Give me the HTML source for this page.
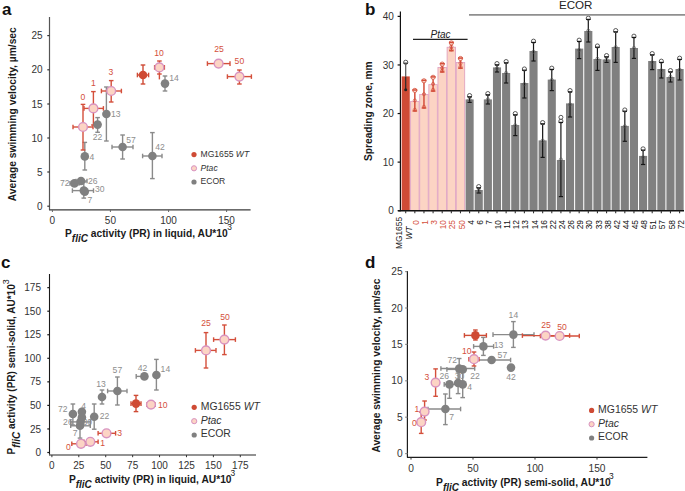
<!DOCTYPE html>
<html><head><meta charset="utf-8"><style>
html,body{margin:0;padding:0;background:#fff;}
svg{display:block;}
text{font-family:"Liberation Sans", sans-serif;}
</style></head><body>
<svg width="685" height="491" viewBox="0 0 685 491">
<rect width="685" height="491" fill="#fff"/>
<text x="2.00" y="15.00" font-size="17" text-anchor="start" fill="#111" font-weight="bold" font-style="normal">a</text>
<line x1="49.50" y1="17.00" x2="49.50" y2="209.80" stroke="#555" stroke-width="1.2"/>
<line x1="47.30" y1="35.60" x2="49.50" y2="35.60" stroke="#333" stroke-width="1.2"/>
<text x="42.50" y="39.20" font-size="10" text-anchor="end" fill="#333" font-weight="normal" font-style="normal">25</text>
<line x1="47.30" y1="69.80" x2="49.50" y2="69.80" stroke="#333" stroke-width="1.2"/>
<text x="42.50" y="73.40" font-size="10" text-anchor="end" fill="#333" font-weight="normal" font-style="normal">20</text>
<line x1="47.30" y1="104.00" x2="49.50" y2="104.00" stroke="#333" stroke-width="1.2"/>
<text x="42.50" y="107.60" font-size="10" text-anchor="end" fill="#333" font-weight="normal" font-style="normal">15</text>
<line x1="47.30" y1="138.00" x2="49.50" y2="138.00" stroke="#333" stroke-width="1.2"/>
<text x="42.50" y="141.60" font-size="10" text-anchor="end" fill="#333" font-weight="normal" font-style="normal">10</text>
<line x1="47.30" y1="172.00" x2="49.50" y2="172.00" stroke="#333" stroke-width="1.2"/>
<text x="42.50" y="175.60" font-size="10" text-anchor="end" fill="#333" font-weight="normal" font-style="normal">5</text>
<line x1="47.30" y1="206.20" x2="49.50" y2="206.20" stroke="#333" stroke-width="1.2"/>
<text x="42.50" y="209.80" font-size="10" text-anchor="end" fill="#333" font-weight="normal" font-style="normal">0</text>
<line x1="49.00" y1="209.80" x2="250.60" y2="209.80" stroke="#3a3a3a" stroke-width="1.2"/>
<line x1="52.40" y1="209.80" x2="52.40" y2="212.00" stroke="#666" stroke-width="1.0"/>
<text x="52.40" y="223.60" font-size="10" text-anchor="middle" fill="#333" font-weight="normal" font-style="normal">0</text>
<line x1="110.40" y1="209.80" x2="110.40" y2="212.00" stroke="#666" stroke-width="1.0"/>
<text x="110.40" y="223.60" font-size="10" text-anchor="middle" fill="#333" font-weight="normal" font-style="normal">50</text>
<line x1="168.60" y1="209.80" x2="168.60" y2="212.00" stroke="#666" stroke-width="1.0"/>
<text x="168.60" y="223.60" font-size="10" text-anchor="middle" fill="#333" font-weight="normal" font-style="normal">100</text>
<line x1="226.60" y1="209.80" x2="226.60" y2="212.00" stroke="#666" stroke-width="1.0"/>
<text x="226.60" y="223.60" font-size="10" text-anchor="middle" fill="#333" font-weight="normal" font-style="normal">150</text>
<text x="65.00" y="236.60" font-size="10.25" text-anchor="start" fill="#1a1a1a" font-weight="bold" font-style="normal">P<tspan dy="5.125" font-style="italic" font-size="10">fliC</tspan><tspan dy="-5.125"> activity (PR) in liquid, AU*10</tspan><tspan dx="-0.5" dy="-6.5600000000000005" font-weight="normal" font-size="8.405">3</tspan></text>
<text x="16.10" y="201.20" font-size="10.25" text-anchor="start" fill="#1a1a1a" font-weight="bold" font-style="normal" transform="rotate(-90 16.10 201.20)">Average swimming velocity, µm/sec</text>
<line x1="159.40" y1="74.00" x2="159.40" y2="79.40" stroke="#d44f3b" stroke-width="1.4"/>
<line x1="83.80" y1="182.00" x2="83.80" y2="198.10" stroke="#8a8a8a" stroke-width="1.4"/>
<line x1="81.50" y1="182.00" x2="86.10" y2="182.00" stroke="#8a8a8a" stroke-width="1.4"/>
<line x1="81.50" y1="198.10" x2="86.10" y2="198.10" stroke="#8a8a8a" stroke-width="1.4"/>
<line x1="72.40" y1="190.60" x2="93.50" y2="190.60" stroke="#8a8a8a" stroke-width="1.4"/>
<line x1="72.40" y1="188.30" x2="72.40" y2="192.90" stroke="#8a8a8a" stroke-width="1.4"/>
<line x1="93.50" y1="188.30" x2="93.50" y2="192.90" stroke="#8a8a8a" stroke-width="1.4"/>
<line x1="70.00" y1="183.40" x2="79.00" y2="183.40" stroke="#8a8a8a" stroke-width="1.4"/>
<line x1="70.00" y1="181.10" x2="70.00" y2="185.70" stroke="#8a8a8a" stroke-width="1.4"/>
<line x1="79.00" y1="181.10" x2="79.00" y2="185.70" stroke="#8a8a8a" stroke-width="1.4"/>
<line x1="76.00" y1="181.00" x2="87.00" y2="181.00" stroke="#8a8a8a" stroke-width="1.4"/>
<line x1="76.00" y1="178.70" x2="76.00" y2="183.30" stroke="#8a8a8a" stroke-width="1.4"/>
<line x1="87.00" y1="178.70" x2="87.00" y2="183.30" stroke="#8a8a8a" stroke-width="1.4"/>
<line x1="84.80" y1="142.40" x2="84.80" y2="170.00" stroke="#8a8a8a" stroke-width="1.4"/>
<line x1="82.50" y1="142.40" x2="87.10" y2="142.40" stroke="#8a8a8a" stroke-width="1.4"/>
<line x1="82.50" y1="170.00" x2="87.10" y2="170.00" stroke="#8a8a8a" stroke-width="1.4"/>
<line x1="97.60" y1="117.60" x2="97.60" y2="132.30" stroke="#8a8a8a" stroke-width="1.4"/>
<line x1="95.30" y1="117.60" x2="99.90" y2="117.60" stroke="#8a8a8a" stroke-width="1.4"/>
<line x1="95.30" y1="132.30" x2="99.90" y2="132.30" stroke="#8a8a8a" stroke-width="1.4"/>
<line x1="106.40" y1="87.00" x2="106.40" y2="141.00" stroke="#8a8a8a" stroke-width="1.4"/>
<line x1="104.10" y1="87.00" x2="108.70" y2="87.00" stroke="#8a8a8a" stroke-width="1.4"/>
<line x1="104.10" y1="141.00" x2="108.70" y2="141.00" stroke="#8a8a8a" stroke-width="1.4"/>
<line x1="122.60" y1="135.00" x2="122.60" y2="159.00" stroke="#8a8a8a" stroke-width="1.4"/>
<line x1="120.30" y1="135.00" x2="124.90" y2="135.00" stroke="#8a8a8a" stroke-width="1.4"/>
<line x1="120.30" y1="159.00" x2="124.90" y2="159.00" stroke="#8a8a8a" stroke-width="1.4"/>
<line x1="112.00" y1="147.00" x2="133.00" y2="147.00" stroke="#8a8a8a" stroke-width="1.4"/>
<line x1="112.00" y1="144.70" x2="112.00" y2="149.30" stroke="#8a8a8a" stroke-width="1.4"/>
<line x1="133.00" y1="144.70" x2="133.00" y2="149.30" stroke="#8a8a8a" stroke-width="1.4"/>
<line x1="152.40" y1="132.60" x2="152.40" y2="178.60" stroke="#8a8a8a" stroke-width="1.4"/>
<line x1="150.10" y1="132.60" x2="154.70" y2="132.60" stroke="#8a8a8a" stroke-width="1.4"/>
<line x1="150.10" y1="178.60" x2="154.70" y2="178.60" stroke="#8a8a8a" stroke-width="1.4"/>
<line x1="142.60" y1="156.00" x2="162.00" y2="156.00" stroke="#8a8a8a" stroke-width="1.4"/>
<line x1="142.60" y1="153.70" x2="142.60" y2="158.30" stroke="#8a8a8a" stroke-width="1.4"/>
<line x1="162.00" y1="153.70" x2="162.00" y2="158.30" stroke="#8a8a8a" stroke-width="1.4"/>
<line x1="165.00" y1="76.00" x2="165.00" y2="91.00" stroke="#8a8a8a" stroke-width="1.4"/>
<line x1="162.70" y1="76.00" x2="167.30" y2="76.00" stroke="#8a8a8a" stroke-width="1.4"/>
<line x1="162.70" y1="91.00" x2="167.30" y2="91.00" stroke="#8a8a8a" stroke-width="1.4"/>
<line x1="83.00" y1="104.40" x2="83.00" y2="150.00" stroke="#d44f3b" stroke-width="1.4"/>
<line x1="80.70" y1="104.40" x2="85.30" y2="104.40" stroke="#d44f3b" stroke-width="1.4"/>
<line x1="80.70" y1="150.00" x2="85.30" y2="150.00" stroke="#d44f3b" stroke-width="1.4"/>
<line x1="73.00" y1="127.00" x2="93.00" y2="127.00" stroke="#d44f3b" stroke-width="1.4"/>
<line x1="73.00" y1="124.70" x2="73.00" y2="129.30" stroke="#d44f3b" stroke-width="1.4"/>
<line x1="93.00" y1="124.70" x2="93.00" y2="129.30" stroke="#d44f3b" stroke-width="1.4"/>
<line x1="93.40" y1="91.60" x2="93.40" y2="125.00" stroke="#d44f3b" stroke-width="1.4"/>
<line x1="91.10" y1="91.60" x2="95.70" y2="91.60" stroke="#d44f3b" stroke-width="1.4"/>
<line x1="91.10" y1="125.00" x2="95.70" y2="125.00" stroke="#d44f3b" stroke-width="1.4"/>
<line x1="84.00" y1="108.40" x2="103.40" y2="108.40" stroke="#d44f3b" stroke-width="1.4"/>
<line x1="84.00" y1="106.10" x2="84.00" y2="110.70" stroke="#d44f3b" stroke-width="1.4"/>
<line x1="103.40" y1="106.10" x2="103.40" y2="110.70" stroke="#d44f3b" stroke-width="1.4"/>
<line x1="111.20" y1="80.60" x2="111.20" y2="102.00" stroke="#d44f3b" stroke-width="1.4"/>
<line x1="108.90" y1="80.60" x2="113.50" y2="80.60" stroke="#d44f3b" stroke-width="1.4"/>
<line x1="108.90" y1="102.00" x2="113.50" y2="102.00" stroke="#d44f3b" stroke-width="1.4"/>
<line x1="101.40" y1="91.00" x2="121.40" y2="91.00" stroke="#d44f3b" stroke-width="1.4"/>
<line x1="101.40" y1="88.70" x2="101.40" y2="93.30" stroke="#d44f3b" stroke-width="1.4"/>
<line x1="121.40" y1="88.70" x2="121.40" y2="93.30" stroke="#d44f3b" stroke-width="1.4"/>
<line x1="159.40" y1="61.00" x2="159.40" y2="74.00" stroke="#d44f3b" stroke-width="1.4"/>
<line x1="157.10" y1="61.00" x2="161.70" y2="61.00" stroke="#d44f3b" stroke-width="1.4"/>
<line x1="157.10" y1="74.00" x2="161.70" y2="74.00" stroke="#d44f3b" stroke-width="1.4"/>
<line x1="154.60" y1="67.40" x2="164.40" y2="67.40" stroke="#d44f3b" stroke-width="1.4"/>
<line x1="154.60" y1="65.10" x2="154.60" y2="69.70" stroke="#d44f3b" stroke-width="1.4"/>
<line x1="164.40" y1="65.10" x2="164.40" y2="69.70" stroke="#d44f3b" stroke-width="1.4"/>
<line x1="207.40" y1="63.60" x2="230.00" y2="63.60" stroke="#d44f3b" stroke-width="1.4"/>
<line x1="207.40" y1="61.30" x2="207.40" y2="65.90" stroke="#d44f3b" stroke-width="1.4"/>
<line x1="230.00" y1="61.30" x2="230.00" y2="65.90" stroke="#d44f3b" stroke-width="1.4"/>
<line x1="239.40" y1="70.00" x2="239.40" y2="84.00" stroke="#d44f3b" stroke-width="1.4"/>
<line x1="237.10" y1="70.00" x2="241.70" y2="70.00" stroke="#d44f3b" stroke-width="1.4"/>
<line x1="237.10" y1="84.00" x2="241.70" y2="84.00" stroke="#d44f3b" stroke-width="1.4"/>
<line x1="227.40" y1="76.60" x2="251.40" y2="76.60" stroke="#d44f3b" stroke-width="1.4"/>
<line x1="227.40" y1="74.30" x2="227.40" y2="78.90" stroke="#d44f3b" stroke-width="1.4"/>
<line x1="251.40" y1="74.30" x2="251.40" y2="78.90" stroke="#d44f3b" stroke-width="1.4"/>
<line x1="143.00" y1="65.00" x2="143.00" y2="84.00" stroke="#cf4b35" stroke-width="1.4"/>
<line x1="140.70" y1="65.00" x2="145.30" y2="65.00" stroke="#cf4b35" stroke-width="1.4"/>
<line x1="140.70" y1="84.00" x2="145.30" y2="84.00" stroke="#cf4b35" stroke-width="1.4"/>
<line x1="137.40" y1="75.00" x2="148.60" y2="75.00" stroke="#cf4b35" stroke-width="1.4"/>
<line x1="137.40" y1="72.70" x2="137.40" y2="77.30" stroke="#cf4b35" stroke-width="1.4"/>
<line x1="148.60" y1="72.70" x2="148.60" y2="77.30" stroke="#cf4b35" stroke-width="1.4"/>
<circle cx="83.80" cy="190.60" r="4.3" fill="#808080" stroke="none" stroke-width="0"/>
<circle cx="84.80" cy="191.60" r="4.3" fill="#808080" stroke="none" stroke-width="0"/>
<circle cx="74.40" cy="183.40" r="4.3" fill="#808080" stroke="none" stroke-width="0"/>
<circle cx="81.00" cy="181.00" r="4.3" fill="#808080" stroke="none" stroke-width="0"/>
<circle cx="84.80" cy="156.40" r="4.3" fill="#808080" stroke="none" stroke-width="0"/>
<circle cx="97.60" cy="124.60" r="4.3" fill="#808080" stroke="none" stroke-width="0"/>
<circle cx="106.40" cy="114.00" r="4.3" fill="#808080" stroke="none" stroke-width="0"/>
<circle cx="122.60" cy="147.00" r="4.3" fill="#808080" stroke="none" stroke-width="0"/>
<circle cx="152.40" cy="156.00" r="4.3" fill="#808080" stroke="none" stroke-width="0"/>
<circle cx="165.00" cy="83.60" r="4.3" fill="#808080" stroke="none" stroke-width="0"/>
<circle cx="83.00" cy="127.00" r="4.4" fill="#fcd4c4" stroke="#d893c0" stroke-width="1.4"/>
<circle cx="93.40" cy="108.40" r="4.4" fill="#fcd4c4" stroke="#d893c0" stroke-width="1.4"/>
<circle cx="111.20" cy="91.00" r="4.4" fill="#fcd4c4" stroke="#d893c0" stroke-width="1.4"/>
<circle cx="159.40" cy="67.40" r="4.4" fill="#fcd4c4" stroke="#d893c0" stroke-width="1.4"/>
<circle cx="218.60" cy="63.60" r="4.4" fill="#fcd4c4" stroke="#d893c0" stroke-width="1.4"/>
<circle cx="239.40" cy="76.60" r="4.4" fill="#fcd4c4" stroke="#d893c0" stroke-width="1.4"/>
<circle cx="143.00" cy="75.00" r="4.3" fill="#cf4b35" stroke="none" stroke-width="0"/>
<text x="83.00" y="100.00" font-size="8.6" text-anchor="middle" fill="#d44f3b" font-weight="normal" font-style="normal">0</text>
<text x="93.40" y="86.00" font-size="8.6" text-anchor="middle" fill="#d44f3b" font-weight="normal" font-style="normal">1</text>
<text x="111.00" y="75.00" font-size="8.6" text-anchor="middle" fill="#d44f3b" font-weight="normal" font-style="normal">3</text>
<text x="159.00" y="56.00" font-size="8.6" text-anchor="middle" fill="#d44f3b" font-weight="normal" font-style="normal">10</text>
<text x="219.00" y="51.60" font-size="8.6" text-anchor="middle" fill="#d44f3b" font-weight="normal" font-style="normal">25</text>
<text x="239.40" y="64.00" font-size="8.6" text-anchor="middle" fill="#d44f3b" font-weight="normal" font-style="normal">50</text>
<text x="169.20" y="81.00" font-size="8.6" text-anchor="start" fill="#8e8e8e" font-weight="normal" font-style="normal">14</text>
<text x="111.00" y="117.00" font-size="8.6" text-anchor="start" fill="#8e8e8e" font-weight="normal" font-style="normal">13</text>
<text x="97.60" y="139.50" font-size="8.6" text-anchor="middle" fill="#8e8e8e" font-weight="normal" font-style="normal">22</text>
<text x="89.40" y="159.50" font-size="8.6" text-anchor="start" fill="#8e8e8e" font-weight="normal" font-style="normal">4</text>
<text x="131.00" y="142.70" font-size="8.6" text-anchor="middle" fill="#8e8e8e" font-weight="normal" font-style="normal">57</text>
<text x="160.00" y="149.60" font-size="8.6" text-anchor="middle" fill="#8e8e8e" font-weight="normal" font-style="normal">42</text>
<text x="69.50" y="186.40" font-size="8.6" text-anchor="end" fill="#8e8e8e" font-weight="normal" font-style="normal">72</text>
<text x="88.00" y="184.00" font-size="8.6" text-anchor="start" fill="#8e8e8e" font-weight="normal" font-style="normal">26</text>
<text x="95.00" y="192.30" font-size="8.6" text-anchor="start" fill="#8e8e8e" font-weight="normal" font-style="normal">30</text>
<text x="90.00" y="203.00" font-size="8.6" text-anchor="middle" fill="#8e8e8e" font-weight="normal" font-style="normal">7</text>
<circle cx="194.00" cy="154.60" r="2.6" fill="#cf4b35" stroke="none" stroke-width="0"/>
<text x="200.50" y="157.00" font-size="8.6" text-anchor="start" fill="#333" font-weight="normal" font-style="normal">MG1655 <tspan font-style="italic">WT</tspan></text>
<circle cx="194.00" cy="168.30" r="2.6" fill="#fcd4c4" stroke="#d893c0" stroke-width="1.0"/>
<text x="200.50" y="170.70" font-size="8.6" text-anchor="start" fill="#333" font-weight="normal" font-style="italic">Ptac</text>
<circle cx="194.00" cy="182.00" r="2.6" fill="#808080" stroke="none" stroke-width="0"/>
<text x="200.50" y="184.40" font-size="8.6" text-anchor="start" fill="#333" font-weight="normal" font-style="normal">ECOR</text>
<text x="365.00" y="15.00" font-size="17" text-anchor="start" fill="#111" font-weight="bold" font-style="normal">b</text>
<line x1="400.40" y1="11.40" x2="400.40" y2="211.20" stroke="#111" stroke-width="1.2"/>
<line x1="397.60" y1="16.38" x2="400.40" y2="16.38" stroke="#111" stroke-width="1.2"/>
<text x="393.80" y="19.98" font-size="10" text-anchor="end" fill="#333" font-weight="normal" font-style="normal">40</text>
<line x1="397.60" y1="64.96" x2="400.40" y2="64.96" stroke="#111" stroke-width="1.2"/>
<text x="393.80" y="68.56" font-size="10" text-anchor="end" fill="#333" font-weight="normal" font-style="normal">30</text>
<line x1="397.60" y1="113.54" x2="400.40" y2="113.54" stroke="#111" stroke-width="1.2"/>
<text x="393.80" y="117.14" font-size="10" text-anchor="end" fill="#333" font-weight="normal" font-style="normal">20</text>
<line x1="397.60" y1="162.12" x2="400.40" y2="162.12" stroke="#111" stroke-width="1.2"/>
<text x="393.80" y="165.72" font-size="10" text-anchor="end" fill="#333" font-weight="normal" font-style="normal">10</text>
<line x1="397.60" y1="210.70" x2="400.40" y2="210.70" stroke="#111" stroke-width="1.2"/>
<text x="393.80" y="214.30" font-size="10" text-anchor="end" fill="#333" font-weight="normal" font-style="normal">0</text>
<text x="372.00" y="161.00" font-size="10.2" text-anchor="start" fill="#1a1a1a" font-weight="bold" font-style="normal" transform="rotate(-90 372.00 161.00)">Spreading zone, mm</text>
<rect x="401.65" y="76.40" width="8.10" height="134.30" fill="#cf4b35" stroke="none" stroke-width="0"/>
<rect x="465.56" y="99.40" width="8.10" height="111.30" fill="#808080" stroke="none" stroke-width="0"/>
<rect x="474.69" y="190.00" width="8.10" height="20.70" fill="#808080" stroke="none" stroke-width="0"/>
<rect x="483.82" y="99.40" width="8.10" height="111.30" fill="#808080" stroke="none" stroke-width="0"/>
<rect x="492.95" y="67.40" width="8.10" height="143.30" fill="#808080" stroke="none" stroke-width="0"/>
<rect x="502.08" y="73.00" width="8.10" height="137.70" fill="#808080" stroke="none" stroke-width="0"/>
<rect x="511.21" y="125.00" width="8.10" height="85.70" fill="#808080" stroke="none" stroke-width="0"/>
<rect x="520.34" y="83.00" width="8.10" height="127.70" fill="#808080" stroke="none" stroke-width="0"/>
<rect x="529.47" y="51.00" width="8.10" height="159.70" fill="#808080" stroke="none" stroke-width="0"/>
<rect x="538.60" y="140.40" width="8.10" height="70.30" fill="#808080" stroke="none" stroke-width="0"/>
<rect x="547.73" y="79.60" width="8.10" height="131.10" fill="#808080" stroke="none" stroke-width="0"/>
<rect x="556.86" y="160.00" width="8.10" height="50.70" fill="#808080" stroke="none" stroke-width="0"/>
<rect x="565.99" y="103.40" width="8.10" height="107.30" fill="#808080" stroke="none" stroke-width="0"/>
<rect x="575.12" y="48.60" width="8.10" height="162.10" fill="#808080" stroke="none" stroke-width="0"/>
<rect x="584.25" y="31.00" width="8.10" height="179.70" fill="#808080" stroke="none" stroke-width="0"/>
<rect x="593.38" y="59.00" width="8.10" height="151.70" fill="#808080" stroke="none" stroke-width="0"/>
<rect x="602.51" y="59.40" width="8.10" height="151.30" fill="#808080" stroke="none" stroke-width="0"/>
<rect x="611.64" y="47.00" width="8.10" height="163.70" fill="#808080" stroke="none" stroke-width="0"/>
<rect x="620.77" y="125.90" width="8.10" height="84.80" fill="#808080" stroke="none" stroke-width="0"/>
<rect x="629.90" y="48.00" width="8.10" height="162.70" fill="#808080" stroke="none" stroke-width="0"/>
<rect x="639.03" y="155.90" width="8.10" height="54.80" fill="#808080" stroke="none" stroke-width="0"/>
<rect x="648.16" y="61.00" width="8.10" height="149.70" fill="#808080" stroke="none" stroke-width="0"/>
<rect x="657.29" y="69.00" width="8.10" height="141.70" fill="#808080" stroke="none" stroke-width="0"/>
<rect x="666.42" y="77.00" width="8.10" height="133.70" fill="#808080" stroke="none" stroke-width="0"/>
<rect x="675.55" y="69.00" width="8.10" height="141.70" fill="#808080" stroke="none" stroke-width="0"/>
<rect x="410.26" y="101.00" width="9.13" height="109.70" fill="#fcd4c4" stroke="none" stroke-width="0"/>
<rect x="419.39" y="94.20" width="9.13" height="116.50" fill="#fcd4c4" stroke="none" stroke-width="0"/>
<rect x="428.52" y="84.30" width="9.13" height="126.40" fill="#fcd4c4" stroke="none" stroke-width="0"/>
<rect x="437.65" y="67.20" width="9.13" height="143.50" fill="#fcd4c4" stroke="none" stroke-width="0"/>
<rect x="446.79" y="46.90" width="9.13" height="163.80" fill="#fcd4c4" stroke="none" stroke-width="0"/>
<rect x="455.92" y="62.10" width="9.13" height="148.60" fill="#fcd4c4" stroke="none" stroke-width="0"/>
<rect x="410.62" y="101.35" width="8.43" height="109.35" fill="none" stroke="#dea3c6" stroke-width="0.8"/>
<rect x="419.75" y="94.55" width="8.43" height="116.15" fill="none" stroke="#dea3c6" stroke-width="0.8"/>
<rect x="428.88" y="84.65" width="8.43" height="126.05" fill="none" stroke="#dea3c6" stroke-width="0.8"/>
<rect x="438.00" y="67.55" width="8.43" height="143.15" fill="none" stroke="#dea3c6" stroke-width="0.8"/>
<rect x="447.14" y="47.25" width="8.43" height="163.45" fill="none" stroke="#dea3c6" stroke-width="0.8"/>
<rect x="456.27" y="62.45" width="8.43" height="148.25" fill="none" stroke="#dea3c6" stroke-width="0.8"/>
<line x1="405.70" y1="63.20" x2="405.70" y2="76.40" stroke="#555" stroke-width="1.2"/>
<line x1="405.70" y1="76.40" x2="405.70" y2="89.80" stroke="#2a2a2a" stroke-width="1.2"/>
<circle cx="405.70" cy="89.80" r="1.5" fill="#222" stroke="none" stroke-width="0"/>
<circle cx="405.70" cy="62.30" r="2.1" fill="#fff" stroke="#333" stroke-width="0.8"/>
<line x1="403.60" y1="63.20" x2="407.80" y2="63.20" stroke="#2a2a2a" stroke-width="1.2"/>
<line x1="414.83" y1="90.00" x2="414.83" y2="111.00" stroke="#d44f3b" stroke-width="1.5"/>
<line x1="412.53" y1="90.00" x2="417.13" y2="90.00" stroke="#d44f3b" stroke-width="1.5"/>
<line x1="412.53" y1="111.00" x2="417.13" y2="111.00" stroke="#d44f3b" stroke-width="1.5"/>
<circle cx="414.83" cy="100.50" r="1.6" fill="none" stroke="#d44f3b" stroke-width="0.7"/>
<circle cx="414.83" cy="109.80" r="1.6" fill="none" stroke="#d44f3b" stroke-width="0.7"/>
<circle cx="414.83" cy="90.40" r="2.1" fill="#fde3d8" stroke="#d44f3b" stroke-width="0.8"/>
<line x1="412.53" y1="90.00" x2="417.13" y2="90.00" stroke="#d44f3b" stroke-width="1.5"/>
<line x1="423.96" y1="80.40" x2="423.96" y2="108.00" stroke="#d44f3b" stroke-width="1.5"/>
<line x1="421.66" y1="80.40" x2="426.26" y2="80.40" stroke="#d44f3b" stroke-width="1.5"/>
<line x1="421.66" y1="108.00" x2="426.26" y2="108.00" stroke="#d44f3b" stroke-width="1.5"/>
<circle cx="423.96" cy="94.20" r="1.6" fill="none" stroke="#d44f3b" stroke-width="0.7"/>
<circle cx="423.96" cy="106.80" r="1.6" fill="none" stroke="#d44f3b" stroke-width="0.7"/>
<circle cx="423.96" cy="80.80" r="2.1" fill="#fde3d8" stroke="#d44f3b" stroke-width="0.8"/>
<line x1="421.66" y1="80.40" x2="426.26" y2="80.40" stroke="#d44f3b" stroke-width="1.5"/>
<line x1="433.09" y1="76.90" x2="433.09" y2="91.10" stroke="#d44f3b" stroke-width="1.5"/>
<line x1="430.79" y1="76.90" x2="435.39" y2="76.90" stroke="#d44f3b" stroke-width="1.5"/>
<line x1="430.79" y1="91.10" x2="435.39" y2="91.10" stroke="#d44f3b" stroke-width="1.5"/>
<circle cx="433.09" cy="84.00" r="1.6" fill="none" stroke="#d44f3b" stroke-width="0.7"/>
<circle cx="433.09" cy="89.90" r="1.6" fill="none" stroke="#d44f3b" stroke-width="0.7"/>
<circle cx="433.09" cy="77.30" r="2.1" fill="#fde3d8" stroke="#d44f3b" stroke-width="0.8"/>
<line x1="430.79" y1="76.90" x2="435.39" y2="76.90" stroke="#d44f3b" stroke-width="1.5"/>
<line x1="442.22" y1="63.70" x2="442.22" y2="72.00" stroke="#d44f3b" stroke-width="1.5"/>
<line x1="439.92" y1="63.70" x2="444.52" y2="63.70" stroke="#d44f3b" stroke-width="1.5"/>
<line x1="439.92" y1="72.00" x2="444.52" y2="72.00" stroke="#d44f3b" stroke-width="1.5"/>
<circle cx="442.22" cy="67.85" r="1.6" fill="none" stroke="#d44f3b" stroke-width="0.7"/>
<circle cx="442.22" cy="70.80" r="1.6" fill="none" stroke="#d44f3b" stroke-width="0.7"/>
<circle cx="442.22" cy="64.10" r="2.1" fill="#fde3d8" stroke="#d44f3b" stroke-width="0.8"/>
<line x1="439.92" y1="63.70" x2="444.52" y2="63.70" stroke="#d44f3b" stroke-width="1.5"/>
<line x1="451.35" y1="42.50" x2="451.35" y2="50.70" stroke="#d44f3b" stroke-width="1.5"/>
<line x1="449.05" y1="42.50" x2="453.65" y2="42.50" stroke="#d44f3b" stroke-width="1.5"/>
<line x1="449.05" y1="50.70" x2="453.65" y2="50.70" stroke="#d44f3b" stroke-width="1.5"/>
<circle cx="451.35" cy="46.60" r="1.6" fill="none" stroke="#d44f3b" stroke-width="0.7"/>
<circle cx="451.35" cy="49.50" r="1.6" fill="none" stroke="#d44f3b" stroke-width="0.7"/>
<circle cx="451.35" cy="42.90" r="2.1" fill="#fde3d8" stroke="#d44f3b" stroke-width="0.8"/>
<line x1="449.05" y1="42.50" x2="453.65" y2="42.50" stroke="#d44f3b" stroke-width="1.5"/>
<line x1="460.48" y1="58.10" x2="460.48" y2="68.20" stroke="#d44f3b" stroke-width="1.5"/>
<line x1="458.18" y1="58.10" x2="462.78" y2="58.10" stroke="#d44f3b" stroke-width="1.5"/>
<line x1="458.18" y1="68.20" x2="462.78" y2="68.20" stroke="#d44f3b" stroke-width="1.5"/>
<circle cx="460.48" cy="63.15" r="1.6" fill="none" stroke="#d44f3b" stroke-width="0.7"/>
<circle cx="460.48" cy="67.00" r="1.6" fill="none" stroke="#d44f3b" stroke-width="0.7"/>
<circle cx="460.48" cy="58.50" r="2.1" fill="#fde3d8" stroke="#d44f3b" stroke-width="0.8"/>
<line x1="458.18" y1="58.10" x2="462.78" y2="58.10" stroke="#d44f3b" stroke-width="1.5"/>
<line x1="469.61" y1="96.80" x2="469.61" y2="102.40" stroke="#161616" stroke-width="1.2"/>
<line x1="467.51" y1="96.80" x2="471.71" y2="96.80" stroke="#161616" stroke-width="1.2"/>
<line x1="467.51" y1="102.40" x2="471.71" y2="102.40" stroke="#161616" stroke-width="1.2"/>
<circle cx="469.61" cy="99.60" r="1.6" fill="none" stroke="#555" stroke-width="0.6"/>
<circle cx="469.61" cy="95.60" r="2.1" fill="#fff" stroke="#333" stroke-width="0.8"/>
<line x1="467.51" y1="96.80" x2="471.71" y2="96.80" stroke="#161616" stroke-width="1.2"/>
<line x1="478.74" y1="187.80" x2="478.74" y2="193.00" stroke="#161616" stroke-width="1.2"/>
<line x1="476.64" y1="187.80" x2="480.84" y2="187.80" stroke="#161616" stroke-width="1.2"/>
<line x1="476.64" y1="193.00" x2="480.84" y2="193.00" stroke="#161616" stroke-width="1.2"/>
<circle cx="478.74" cy="190.40" r="1.6" fill="none" stroke="#555" stroke-width="0.6"/>
<circle cx="478.74" cy="186.60" r="2.1" fill="#fff" stroke="#333" stroke-width="0.8"/>
<line x1="476.64" y1="187.80" x2="480.84" y2="187.80" stroke="#161616" stroke-width="1.2"/>
<line x1="487.87" y1="94.80" x2="487.87" y2="104.00" stroke="#161616" stroke-width="1.2"/>
<line x1="485.77" y1="94.80" x2="489.97" y2="94.80" stroke="#161616" stroke-width="1.2"/>
<line x1="485.77" y1="104.00" x2="489.97" y2="104.00" stroke="#161616" stroke-width="1.2"/>
<circle cx="487.87" cy="99.40" r="1.6" fill="none" stroke="#555" stroke-width="0.6"/>
<circle cx="487.87" cy="93.60" r="2.1" fill="#fff" stroke="#333" stroke-width="0.8"/>
<line x1="485.77" y1="94.80" x2="489.97" y2="94.80" stroke="#161616" stroke-width="1.2"/>
<line x1="497.00" y1="64.80" x2="497.00" y2="72.00" stroke="#161616" stroke-width="1.2"/>
<line x1="494.90" y1="64.80" x2="499.10" y2="64.80" stroke="#161616" stroke-width="1.2"/>
<line x1="494.90" y1="72.00" x2="499.10" y2="72.00" stroke="#161616" stroke-width="1.2"/>
<circle cx="497.00" cy="68.40" r="1.6" fill="none" stroke="#555" stroke-width="0.6"/>
<circle cx="497.00" cy="63.60" r="2.1" fill="#fff" stroke="#333" stroke-width="0.8"/>
<line x1="494.90" y1="64.80" x2="499.10" y2="64.80" stroke="#161616" stroke-width="1.2"/>
<line x1="506.13" y1="62.80" x2="506.13" y2="83.00" stroke="#161616" stroke-width="1.2"/>
<line x1="504.03" y1="62.80" x2="508.23" y2="62.80" stroke="#161616" stroke-width="1.2"/>
<line x1="504.03" y1="83.00" x2="508.23" y2="83.00" stroke="#161616" stroke-width="1.2"/>
<circle cx="506.13" cy="72.90" r="1.6" fill="none" stroke="#555" stroke-width="0.6"/>
<circle cx="506.13" cy="61.60" r="2.1" fill="#fff" stroke="#333" stroke-width="0.8"/>
<line x1="504.03" y1="62.80" x2="508.23" y2="62.80" stroke="#161616" stroke-width="1.2"/>
<line x1="515.26" y1="114.80" x2="515.26" y2="135.60" stroke="#161616" stroke-width="1.2"/>
<line x1="513.16" y1="114.80" x2="517.36" y2="114.80" stroke="#161616" stroke-width="1.2"/>
<line x1="513.16" y1="135.60" x2="517.36" y2="135.60" stroke="#161616" stroke-width="1.2"/>
<circle cx="515.26" cy="125.20" r="1.6" fill="none" stroke="#555" stroke-width="0.6"/>
<circle cx="515.26" cy="113.60" r="2.1" fill="#fff" stroke="#333" stroke-width="0.8"/>
<line x1="513.16" y1="114.80" x2="517.36" y2="114.80" stroke="#161616" stroke-width="1.2"/>
<line x1="524.39" y1="70.20" x2="524.39" y2="98.00" stroke="#161616" stroke-width="1.2"/>
<line x1="522.29" y1="70.20" x2="526.49" y2="70.20" stroke="#161616" stroke-width="1.2"/>
<line x1="522.29" y1="98.00" x2="526.49" y2="98.00" stroke="#161616" stroke-width="1.2"/>
<circle cx="524.39" cy="84.10" r="1.6" fill="none" stroke="#555" stroke-width="0.6"/>
<circle cx="524.39" cy="69.00" r="2.1" fill="#fff" stroke="#333" stroke-width="0.8"/>
<line x1="522.29" y1="70.20" x2="526.49" y2="70.20" stroke="#161616" stroke-width="1.2"/>
<line x1="533.52" y1="42.40" x2="533.52" y2="61.00" stroke="#161616" stroke-width="1.2"/>
<line x1="531.42" y1="42.40" x2="535.62" y2="42.40" stroke="#161616" stroke-width="1.2"/>
<line x1="531.42" y1="61.00" x2="535.62" y2="61.00" stroke="#161616" stroke-width="1.2"/>
<circle cx="533.52" cy="51.70" r="1.6" fill="none" stroke="#555" stroke-width="0.6"/>
<circle cx="533.52" cy="41.20" r="2.1" fill="#fff" stroke="#333" stroke-width="0.8"/>
<line x1="531.42" y1="42.40" x2="535.62" y2="42.40" stroke="#161616" stroke-width="1.2"/>
<line x1="542.65" y1="123.80" x2="542.65" y2="157.40" stroke="#161616" stroke-width="1.2"/>
<line x1="540.55" y1="123.80" x2="544.75" y2="123.80" stroke="#161616" stroke-width="1.2"/>
<line x1="540.55" y1="157.40" x2="544.75" y2="157.40" stroke="#161616" stroke-width="1.2"/>
<circle cx="542.65" cy="140.60" r="1.6" fill="none" stroke="#555" stroke-width="0.6"/>
<circle cx="542.65" cy="122.60" r="2.1" fill="#fff" stroke="#333" stroke-width="0.8"/>
<line x1="540.55" y1="123.80" x2="544.75" y2="123.80" stroke="#161616" stroke-width="1.2"/>
<line x1="551.78" y1="69.40" x2="551.78" y2="90.60" stroke="#161616" stroke-width="1.2"/>
<line x1="549.68" y1="69.40" x2="553.88" y2="69.40" stroke="#161616" stroke-width="1.2"/>
<line x1="549.68" y1="90.60" x2="553.88" y2="90.60" stroke="#161616" stroke-width="1.2"/>
<circle cx="551.78" cy="80.00" r="1.6" fill="none" stroke="#555" stroke-width="0.6"/>
<circle cx="551.78" cy="68.20" r="2.1" fill="#fff" stroke="#333" stroke-width="0.8"/>
<line x1="549.68" y1="69.40" x2="553.88" y2="69.40" stroke="#161616" stroke-width="1.2"/>
<line x1="560.91" y1="122.40" x2="560.91" y2="196.60" stroke="#161616" stroke-width="1.2"/>
<line x1="558.81" y1="122.40" x2="563.01" y2="122.40" stroke="#161616" stroke-width="1.2"/>
<line x1="558.81" y1="196.60" x2="563.01" y2="196.60" stroke="#161616" stroke-width="1.2"/>
<circle cx="560.91" cy="159.50" r="1.6" fill="none" stroke="#555" stroke-width="0.6"/>
<circle cx="560.91" cy="121.20" r="2.1" fill="#fff" stroke="#333" stroke-width="0.8"/>
<line x1="558.81" y1="122.40" x2="563.01" y2="122.40" stroke="#161616" stroke-width="1.2"/>
<line x1="570.04" y1="91.80" x2="570.04" y2="117.00" stroke="#161616" stroke-width="1.2"/>
<line x1="567.94" y1="91.80" x2="572.14" y2="91.80" stroke="#161616" stroke-width="1.2"/>
<line x1="567.94" y1="117.00" x2="572.14" y2="117.00" stroke="#161616" stroke-width="1.2"/>
<circle cx="570.04" cy="104.40" r="1.6" fill="none" stroke="#555" stroke-width="0.6"/>
<circle cx="570.04" cy="90.60" r="2.1" fill="#fff" stroke="#333" stroke-width="0.8"/>
<line x1="567.94" y1="91.80" x2="572.14" y2="91.80" stroke="#161616" stroke-width="1.2"/>
<line x1="579.17" y1="41.40" x2="579.17" y2="58.60" stroke="#161616" stroke-width="1.2"/>
<line x1="577.07" y1="41.40" x2="581.27" y2="41.40" stroke="#161616" stroke-width="1.2"/>
<line x1="577.07" y1="58.60" x2="581.27" y2="58.60" stroke="#161616" stroke-width="1.2"/>
<circle cx="579.17" cy="50.00" r="1.6" fill="none" stroke="#555" stroke-width="0.6"/>
<circle cx="579.17" cy="40.20" r="2.1" fill="#fff" stroke="#333" stroke-width="0.8"/>
<line x1="577.07" y1="41.40" x2="581.27" y2="41.40" stroke="#161616" stroke-width="1.2"/>
<line x1="588.30" y1="19.40" x2="588.30" y2="42.00" stroke="#161616" stroke-width="1.2"/>
<line x1="586.20" y1="19.40" x2="590.40" y2="19.40" stroke="#161616" stroke-width="1.2"/>
<line x1="586.20" y1="42.00" x2="590.40" y2="42.00" stroke="#161616" stroke-width="1.2"/>
<circle cx="588.30" cy="30.70" r="1.6" fill="none" stroke="#555" stroke-width="0.6"/>
<circle cx="588.30" cy="18.20" r="2.1" fill="#fff" stroke="#333" stroke-width="0.8"/>
<line x1="586.20" y1="19.40" x2="590.40" y2="19.40" stroke="#161616" stroke-width="1.2"/>
<line x1="597.43" y1="47.20" x2="597.43" y2="70.40" stroke="#161616" stroke-width="1.2"/>
<line x1="595.33" y1="47.20" x2="599.53" y2="47.20" stroke="#161616" stroke-width="1.2"/>
<line x1="595.33" y1="70.40" x2="599.53" y2="70.40" stroke="#161616" stroke-width="1.2"/>
<circle cx="597.43" cy="58.80" r="1.6" fill="none" stroke="#555" stroke-width="0.6"/>
<circle cx="597.43" cy="46.00" r="2.1" fill="#fff" stroke="#333" stroke-width="0.8"/>
<line x1="595.33" y1="47.20" x2="599.53" y2="47.20" stroke="#161616" stroke-width="1.2"/>
<line x1="606.56" y1="56.80" x2="606.56" y2="62.40" stroke="#161616" stroke-width="1.2"/>
<line x1="604.46" y1="56.80" x2="608.66" y2="56.80" stroke="#161616" stroke-width="1.2"/>
<line x1="604.46" y1="62.40" x2="608.66" y2="62.40" stroke="#161616" stroke-width="1.2"/>
<circle cx="606.56" cy="59.60" r="1.6" fill="none" stroke="#555" stroke-width="0.6"/>
<circle cx="606.56" cy="55.60" r="2.1" fill="#fff" stroke="#333" stroke-width="0.8"/>
<line x1="604.46" y1="56.80" x2="608.66" y2="56.80" stroke="#161616" stroke-width="1.2"/>
<line x1="615.69" y1="31.80" x2="615.69" y2="62.40" stroke="#161616" stroke-width="1.2"/>
<line x1="613.59" y1="31.80" x2="617.79" y2="31.80" stroke="#161616" stroke-width="1.2"/>
<line x1="613.59" y1="62.40" x2="617.79" y2="62.40" stroke="#161616" stroke-width="1.2"/>
<circle cx="615.69" cy="47.10" r="1.6" fill="none" stroke="#555" stroke-width="0.6"/>
<circle cx="615.69" cy="30.60" r="2.1" fill="#fff" stroke="#333" stroke-width="0.8"/>
<line x1="613.59" y1="31.80" x2="617.79" y2="31.80" stroke="#161616" stroke-width="1.2"/>
<line x1="624.82" y1="111.20" x2="624.82" y2="141.30" stroke="#161616" stroke-width="1.2"/>
<line x1="622.72" y1="111.20" x2="626.92" y2="111.20" stroke="#161616" stroke-width="1.2"/>
<line x1="622.72" y1="141.30" x2="626.92" y2="141.30" stroke="#161616" stroke-width="1.2"/>
<circle cx="624.82" cy="126.25" r="1.6" fill="none" stroke="#555" stroke-width="0.6"/>
<circle cx="624.82" cy="110.00" r="2.1" fill="#fff" stroke="#333" stroke-width="0.8"/>
<line x1="622.72" y1="111.20" x2="626.92" y2="111.20" stroke="#161616" stroke-width="1.2"/>
<line x1="633.95" y1="37.40" x2="633.95" y2="58.40" stroke="#161616" stroke-width="1.2"/>
<line x1="631.85" y1="37.40" x2="636.05" y2="37.40" stroke="#161616" stroke-width="1.2"/>
<line x1="631.85" y1="58.40" x2="636.05" y2="58.40" stroke="#161616" stroke-width="1.2"/>
<circle cx="633.95" cy="47.90" r="1.6" fill="none" stroke="#555" stroke-width="0.6"/>
<circle cx="633.95" cy="36.20" r="2.1" fill="#fff" stroke="#333" stroke-width="0.8"/>
<line x1="631.85" y1="37.40" x2="636.05" y2="37.40" stroke="#161616" stroke-width="1.2"/>
<line x1="643.08" y1="150.10" x2="643.08" y2="164.50" stroke="#161616" stroke-width="1.2"/>
<line x1="640.98" y1="150.10" x2="645.18" y2="150.10" stroke="#161616" stroke-width="1.2"/>
<line x1="640.98" y1="164.50" x2="645.18" y2="164.50" stroke="#161616" stroke-width="1.2"/>
<circle cx="643.08" cy="157.30" r="1.6" fill="none" stroke="#555" stroke-width="0.6"/>
<circle cx="643.08" cy="148.90" r="2.1" fill="#fff" stroke="#333" stroke-width="0.8"/>
<line x1="640.98" y1="150.10" x2="645.18" y2="150.10" stroke="#161616" stroke-width="1.2"/>
<line x1="652.21" y1="54.80" x2="652.21" y2="69.60" stroke="#161616" stroke-width="1.2"/>
<line x1="650.11" y1="54.80" x2="654.31" y2="54.80" stroke="#161616" stroke-width="1.2"/>
<line x1="650.11" y1="69.60" x2="654.31" y2="69.60" stroke="#161616" stroke-width="1.2"/>
<circle cx="652.21" cy="62.20" r="1.6" fill="none" stroke="#555" stroke-width="0.6"/>
<circle cx="652.21" cy="53.60" r="2.1" fill="#fff" stroke="#333" stroke-width="0.8"/>
<line x1="650.11" y1="54.80" x2="654.31" y2="54.80" stroke="#161616" stroke-width="1.2"/>
<line x1="661.34" y1="62.40" x2="661.34" y2="78.00" stroke="#161616" stroke-width="1.2"/>
<line x1="659.24" y1="62.40" x2="663.44" y2="62.40" stroke="#161616" stroke-width="1.2"/>
<line x1="659.24" y1="78.00" x2="663.44" y2="78.00" stroke="#161616" stroke-width="1.2"/>
<circle cx="661.34" cy="70.20" r="1.6" fill="none" stroke="#555" stroke-width="0.6"/>
<circle cx="661.34" cy="61.20" r="2.1" fill="#fff" stroke="#333" stroke-width="0.8"/>
<line x1="659.24" y1="62.40" x2="663.44" y2="62.40" stroke="#161616" stroke-width="1.2"/>
<line x1="670.47" y1="71.80" x2="670.47" y2="82.00" stroke="#161616" stroke-width="1.2"/>
<line x1="668.37" y1="71.80" x2="672.57" y2="71.80" stroke="#161616" stroke-width="1.2"/>
<line x1="668.37" y1="82.00" x2="672.57" y2="82.00" stroke="#161616" stroke-width="1.2"/>
<circle cx="670.47" cy="76.90" r="1.6" fill="none" stroke="#555" stroke-width="0.6"/>
<circle cx="670.47" cy="70.60" r="2.1" fill="#fff" stroke="#333" stroke-width="0.8"/>
<line x1="668.37" y1="71.80" x2="672.57" y2="71.80" stroke="#161616" stroke-width="1.2"/>
<line x1="679.60" y1="59.40" x2="679.60" y2="80.00" stroke="#161616" stroke-width="1.2"/>
<line x1="677.50" y1="59.40" x2="681.70" y2="59.40" stroke="#161616" stroke-width="1.2"/>
<line x1="677.50" y1="80.00" x2="681.70" y2="80.00" stroke="#161616" stroke-width="1.2"/>
<circle cx="679.60" cy="69.70" r="1.6" fill="none" stroke="#555" stroke-width="0.6"/>
<circle cx="679.60" cy="58.20" r="2.1" fill="#fff" stroke="#333" stroke-width="0.8"/>
<line x1="677.50" y1="59.40" x2="681.70" y2="59.40" stroke="#161616" stroke-width="1.2"/>
<circle cx="560.91" cy="117.30" r="2.0" fill="#fff" stroke="#333" stroke-width="0.8"/>
<line x1="398.20" y1="210.70" x2="684.00" y2="210.70" stroke="#111" stroke-width="1.5"/>
<line x1="405.70" y1="210.70" x2="405.70" y2="213.30" stroke="#333" stroke-width="1.1"/>
<line x1="414.83" y1="210.70" x2="414.83" y2="213.30" stroke="#333" stroke-width="1.1"/>
<line x1="423.96" y1="210.70" x2="423.96" y2="213.30" stroke="#333" stroke-width="1.1"/>
<line x1="433.09" y1="210.70" x2="433.09" y2="213.30" stroke="#333" stroke-width="1.1"/>
<line x1="442.22" y1="210.70" x2="442.22" y2="213.30" stroke="#333" stroke-width="1.1"/>
<line x1="451.35" y1="210.70" x2="451.35" y2="213.30" stroke="#333" stroke-width="1.1"/>
<line x1="460.48" y1="210.70" x2="460.48" y2="213.30" stroke="#333" stroke-width="1.1"/>
<line x1="469.61" y1="210.70" x2="469.61" y2="213.30" stroke="#333" stroke-width="1.1"/>
<line x1="478.74" y1="210.70" x2="478.74" y2="213.30" stroke="#333" stroke-width="1.1"/>
<line x1="487.87" y1="210.70" x2="487.87" y2="213.30" stroke="#333" stroke-width="1.1"/>
<line x1="497.00" y1="210.70" x2="497.00" y2="213.30" stroke="#333" stroke-width="1.1"/>
<line x1="506.13" y1="210.70" x2="506.13" y2="213.30" stroke="#333" stroke-width="1.1"/>
<line x1="515.26" y1="210.70" x2="515.26" y2="213.30" stroke="#333" stroke-width="1.1"/>
<line x1="524.39" y1="210.70" x2="524.39" y2="213.30" stroke="#333" stroke-width="1.1"/>
<line x1="533.52" y1="210.70" x2="533.52" y2="213.30" stroke="#333" stroke-width="1.1"/>
<line x1="542.65" y1="210.70" x2="542.65" y2="213.30" stroke="#333" stroke-width="1.1"/>
<line x1="551.78" y1="210.70" x2="551.78" y2="213.30" stroke="#333" stroke-width="1.1"/>
<line x1="560.91" y1="210.70" x2="560.91" y2="213.30" stroke="#333" stroke-width="1.1"/>
<line x1="570.04" y1="210.70" x2="570.04" y2="213.30" stroke="#333" stroke-width="1.1"/>
<line x1="579.17" y1="210.70" x2="579.17" y2="213.30" stroke="#333" stroke-width="1.1"/>
<line x1="588.30" y1="210.70" x2="588.30" y2="213.30" stroke="#333" stroke-width="1.1"/>
<line x1="597.43" y1="210.70" x2="597.43" y2="213.30" stroke="#333" stroke-width="1.1"/>
<line x1="606.56" y1="210.70" x2="606.56" y2="213.30" stroke="#333" stroke-width="1.1"/>
<line x1="615.69" y1="210.70" x2="615.69" y2="213.30" stroke="#333" stroke-width="1.1"/>
<line x1="624.82" y1="210.70" x2="624.82" y2="213.30" stroke="#333" stroke-width="1.1"/>
<line x1="633.95" y1="210.70" x2="633.95" y2="213.30" stroke="#333" stroke-width="1.1"/>
<line x1="643.08" y1="210.70" x2="643.08" y2="213.30" stroke="#333" stroke-width="1.1"/>
<line x1="652.21" y1="210.70" x2="652.21" y2="213.30" stroke="#333" stroke-width="1.1"/>
<line x1="661.34" y1="210.70" x2="661.34" y2="213.30" stroke="#333" stroke-width="1.1"/>
<line x1="670.47" y1="210.70" x2="670.47" y2="213.30" stroke="#333" stroke-width="1.1"/>
<line x1="679.60" y1="210.70" x2="679.60" y2="213.30" stroke="#333" stroke-width="1.1"/>
<text x="402.30" y="233.00" font-size="8.4" text-anchor="middle" fill="#1a1a1a" font-weight="normal" font-style="normal" transform="rotate(-90 402.30 233.00)">MG1655</text>
<text x="412.30" y="233.00" font-size="8.4" text-anchor="middle" fill="#1a1a1a" font-weight="normal" font-style="italic" transform="rotate(-90 412.30 233.00)">WT</text>
<text x="418.93" y="220.00" font-size="8.4" text-anchor="end" fill="#d44f3b" font-weight="normal" font-style="normal" transform="rotate(-90 418.93 220.00)">0</text>
<text x="428.06" y="220.00" font-size="8.4" text-anchor="end" fill="#d44f3b" font-weight="normal" font-style="normal" transform="rotate(-90 428.06 220.00)">1</text>
<text x="437.19" y="220.00" font-size="8.4" text-anchor="end" fill="#d44f3b" font-weight="normal" font-style="normal" transform="rotate(-90 437.19 220.00)">3</text>
<text x="446.32" y="220.00" font-size="8.4" text-anchor="end" fill="#d44f3b" font-weight="normal" font-style="normal" transform="rotate(-90 446.32 220.00)">10</text>
<text x="455.45" y="220.00" font-size="8.4" text-anchor="end" fill="#d44f3b" font-weight="normal" font-style="normal" transform="rotate(-90 455.45 220.00)">25</text>
<text x="464.58" y="220.00" font-size="8.4" text-anchor="end" fill="#d44f3b" font-weight="normal" font-style="normal" transform="rotate(-90 464.58 220.00)">50</text>
<text x="473.71" y="220.00" font-size="8.4" text-anchor="end" fill="#111" font-weight="normal" font-style="normal" transform="rotate(-90 473.71 220.00)">4</text>
<text x="482.84" y="220.00" font-size="8.4" text-anchor="end" fill="#111" font-weight="normal" font-style="normal" transform="rotate(-90 482.84 220.00)">6</text>
<text x="491.97" y="220.00" font-size="8.4" text-anchor="end" fill="#111" font-weight="normal" font-style="normal" transform="rotate(-90 491.97 220.00)">7</text>
<text x="501.10" y="220.00" font-size="8.4" text-anchor="end" fill="#111" font-weight="normal" font-style="normal" transform="rotate(-90 501.10 220.00)">10</text>
<text x="510.23" y="220.00" font-size="8.4" text-anchor="end" fill="#111" font-weight="normal" font-style="normal" transform="rotate(-90 510.23 220.00)">11</text>
<text x="519.36" y="220.00" font-size="8.4" text-anchor="end" fill="#111" font-weight="normal" font-style="normal" transform="rotate(-90 519.36 220.00)">12</text>
<text x="528.49" y="220.00" font-size="8.4" text-anchor="end" fill="#111" font-weight="normal" font-style="normal" transform="rotate(-90 528.49 220.00)">13</text>
<text x="537.62" y="220.00" font-size="8.4" text-anchor="end" fill="#111" font-weight="normal" font-style="normal" transform="rotate(-90 537.62 220.00)">14</text>
<text x="546.75" y="220.00" font-size="8.4" text-anchor="end" fill="#111" font-weight="normal" font-style="normal" transform="rotate(-90 546.75 220.00)">16</text>
<text x="555.88" y="220.00" font-size="8.4" text-anchor="end" fill="#111" font-weight="normal" font-style="normal" transform="rotate(-90 555.88 220.00)">22</text>
<text x="565.01" y="220.00" font-size="8.4" text-anchor="end" fill="#111" font-weight="normal" font-style="normal" transform="rotate(-90 565.01 220.00)">24</text>
<text x="574.14" y="220.00" font-size="8.4" text-anchor="end" fill="#111" font-weight="normal" font-style="normal" transform="rotate(-90 574.14 220.00)">26</text>
<text x="583.27" y="220.00" font-size="8.4" text-anchor="end" fill="#111" font-weight="normal" font-style="normal" transform="rotate(-90 583.27 220.00)">29</text>
<text x="592.40" y="220.00" font-size="8.4" text-anchor="end" fill="#111" font-weight="normal" font-style="normal" transform="rotate(-90 592.40 220.00)">30</text>
<text x="601.53" y="220.00" font-size="8.4" text-anchor="end" fill="#111" font-weight="normal" font-style="normal" transform="rotate(-90 601.53 220.00)">33</text>
<text x="610.66" y="220.00" font-size="8.4" text-anchor="end" fill="#111" font-weight="normal" font-style="normal" transform="rotate(-90 610.66 220.00)">38</text>
<text x="619.79" y="220.00" font-size="8.4" text-anchor="end" fill="#111" font-weight="normal" font-style="normal" transform="rotate(-90 619.79 220.00)">42</text>
<text x="628.92" y="220.00" font-size="8.4" text-anchor="end" fill="#111" font-weight="normal" font-style="normal" transform="rotate(-90 628.92 220.00)">44</text>
<text x="638.05" y="220.00" font-size="8.4" text-anchor="end" fill="#111" font-weight="normal" font-style="normal" transform="rotate(-90 638.05 220.00)">45</text>
<text x="647.18" y="220.00" font-size="8.4" text-anchor="end" fill="#111" font-weight="normal" font-style="normal" transform="rotate(-90 647.18 220.00)">48</text>
<text x="656.31" y="220.00" font-size="8.4" text-anchor="end" fill="#111" font-weight="normal" font-style="normal" transform="rotate(-90 656.31 220.00)">51</text>
<text x="665.44" y="220.00" font-size="8.4" text-anchor="end" fill="#111" font-weight="normal" font-style="normal" transform="rotate(-90 665.44 220.00)">57</text>
<text x="674.57" y="220.00" font-size="8.4" text-anchor="end" fill="#111" font-weight="normal" font-style="normal" transform="rotate(-90 674.57 220.00)">58</text>
<text x="683.70" y="220.00" font-size="8.4" text-anchor="end" fill="#111" font-weight="normal" font-style="normal" transform="rotate(-90 683.70 220.00)">72</text>
<line x1="413.00" y1="39.40" x2="467.60" y2="39.40" stroke="#222" stroke-width="1.2"/>
<text x="440.50" y="38.10" font-size="10" text-anchor="middle" fill="#222" font-weight="normal" font-style="italic">Ptac</text>
<line x1="469.00" y1="14.90" x2="685.00" y2="14.90" stroke="#8f8f8f" stroke-width="1.8"/>
<text x="575.70" y="8.80" font-size="11.6" text-anchor="middle" fill="#222" font-weight="normal" font-style="normal">ECOR</text>
<text x="1.00" y="268.40" font-size="17" text-anchor="start" fill="#111" font-weight="bold" font-style="normal">c</text>
<line x1="49.50" y1="274.00" x2="49.50" y2="455.20" stroke="#1a1a1a" stroke-width="1.1"/>
<line x1="47.30" y1="287.65" x2="49.50" y2="287.65" stroke="#1a1a1a" stroke-width="1.2"/>
<text x="41.00" y="291.25" font-size="10" text-anchor="end" fill="#333" font-weight="normal" font-style="normal">175</text>
<line x1="47.30" y1="311.20" x2="49.50" y2="311.20" stroke="#1a1a1a" stroke-width="1.2"/>
<text x="41.00" y="314.80" font-size="10" text-anchor="end" fill="#333" font-weight="normal" font-style="normal">150</text>
<line x1="47.30" y1="334.75" x2="49.50" y2="334.75" stroke="#1a1a1a" stroke-width="1.2"/>
<text x="41.00" y="338.35" font-size="10" text-anchor="end" fill="#333" font-weight="normal" font-style="normal">125</text>
<line x1="47.30" y1="358.30" x2="49.50" y2="358.30" stroke="#1a1a1a" stroke-width="1.2"/>
<text x="41.00" y="361.90" font-size="10" text-anchor="end" fill="#333" font-weight="normal" font-style="normal">100</text>
<line x1="47.30" y1="381.85" x2="49.50" y2="381.85" stroke="#1a1a1a" stroke-width="1.2"/>
<text x="41.00" y="385.45" font-size="10" text-anchor="end" fill="#333" font-weight="normal" font-style="normal">75</text>
<line x1="47.30" y1="405.40" x2="49.50" y2="405.40" stroke="#1a1a1a" stroke-width="1.2"/>
<text x="41.00" y="409.00" font-size="10" text-anchor="end" fill="#333" font-weight="normal" font-style="normal">50</text>
<line x1="47.30" y1="428.95" x2="49.50" y2="428.95" stroke="#1a1a1a" stroke-width="1.2"/>
<text x="41.00" y="432.55" font-size="10" text-anchor="end" fill="#333" font-weight="normal" font-style="normal">25</text>
<line x1="47.30" y1="452.50" x2="49.50" y2="452.50" stroke="#1a1a1a" stroke-width="1.2"/>
<text x="41.00" y="456.10" font-size="10" text-anchor="end" fill="#333" font-weight="normal" font-style="normal">0</text>
<line x1="49.00" y1="455.00" x2="256.00" y2="455.00" stroke="#6e6e6e" stroke-width="1.5"/>
<line x1="51.90" y1="455.00" x2="51.90" y2="457.20" stroke="#333" stroke-width="1.0"/>
<text x="51.90" y="468.80" font-size="10" text-anchor="middle" fill="#333" font-weight="normal" font-style="normal">0</text>
<line x1="78.81" y1="455.00" x2="78.81" y2="457.20" stroke="#333" stroke-width="1.0"/>
<text x="78.81" y="468.80" font-size="10" text-anchor="middle" fill="#333" font-weight="normal" font-style="normal">25</text>
<line x1="105.73" y1="455.00" x2="105.73" y2="457.20" stroke="#333" stroke-width="1.0"/>
<text x="105.73" y="468.80" font-size="10" text-anchor="middle" fill="#333" font-weight="normal" font-style="normal">50</text>
<line x1="132.65" y1="455.00" x2="132.65" y2="457.20" stroke="#333" stroke-width="1.0"/>
<text x="132.65" y="468.80" font-size="10" text-anchor="middle" fill="#333" font-weight="normal" font-style="normal">75</text>
<line x1="159.56" y1="455.00" x2="159.56" y2="457.20" stroke="#333" stroke-width="1.0"/>
<text x="159.56" y="468.80" font-size="10" text-anchor="middle" fill="#333" font-weight="normal" font-style="normal">100</text>
<line x1="186.47" y1="455.00" x2="186.47" y2="457.20" stroke="#333" stroke-width="1.0"/>
<text x="186.47" y="468.80" font-size="10" text-anchor="middle" fill="#333" font-weight="normal" font-style="normal">125</text>
<line x1="213.39" y1="455.00" x2="213.39" y2="457.20" stroke="#333" stroke-width="1.0"/>
<text x="213.39" y="468.80" font-size="10" text-anchor="middle" fill="#333" font-weight="normal" font-style="normal">150</text>
<line x1="240.31" y1="455.00" x2="240.31" y2="457.20" stroke="#333" stroke-width="1.0"/>
<text x="240.31" y="468.80" font-size="10" text-anchor="middle" fill="#333" font-weight="normal" font-style="normal">175</text>
<text x="68.90" y="482.90" font-size="10.25" text-anchor="start" fill="#1a1a1a" font-weight="bold" font-style="normal">P<tspan dy="5.125" font-style="italic" font-size="10">fliC</tspan><tspan dy="-5.125"> activity (PR) in liquid, AU*10</tspan><tspan dx="-1.0" dy="-6.5600000000000005" font-weight="normal" font-size="8.405">3</tspan></text>
<text x="14.50" y="454.50" font-size="10" text-anchor="start" fill="#1a1a1a" font-weight="bold" font-style="normal" transform="rotate(-90 14.50 454.50)">P<tspan dy="5" font-style="italic">fliC</tspan><tspan dy="-5"> activity (PR) semi-solid, AU*10</tspan><tspan dy="-5.5" font-weight="normal" font-size="9">3</tspan></text>
<text x="67.90" y="425.00" font-size="8.6" text-anchor="middle" fill="#8e8e8e" font-weight="normal" font-style="normal">26</text>
<text x="87.20" y="425.00" font-size="8.6" text-anchor="middle" fill="#8e8e8e" font-weight="normal" font-style="normal">30</text>
<line x1="72.90" y1="404.00" x2="72.90" y2="425.00" stroke="#8a8a8a" stroke-width="1.4"/>
<line x1="70.60" y1="404.00" x2="75.20" y2="404.00" stroke="#8a8a8a" stroke-width="1.4"/>
<line x1="70.60" y1="425.00" x2="75.20" y2="425.00" stroke="#8a8a8a" stroke-width="1.4"/>
<line x1="70.70" y1="421.90" x2="90.30" y2="421.90" stroke="#8a8a8a" stroke-width="1.4"/>
<line x1="70.70" y1="419.60" x2="70.70" y2="424.20" stroke="#8a8a8a" stroke-width="1.4"/>
<line x1="90.30" y1="419.60" x2="90.30" y2="424.20" stroke="#8a8a8a" stroke-width="1.4"/>
<line x1="80.00" y1="420.00" x2="80.00" y2="438.10" stroke="#8a8a8a" stroke-width="1.4"/>
<line x1="77.70" y1="420.00" x2="82.30" y2="420.00" stroke="#8a8a8a" stroke-width="1.4"/>
<line x1="77.70" y1="438.10" x2="82.30" y2="438.10" stroke="#8a8a8a" stroke-width="1.4"/>
<line x1="70.70" y1="425.80" x2="90.30" y2="425.80" stroke="#8a8a8a" stroke-width="1.4"/>
<line x1="70.70" y1="423.50" x2="70.70" y2="428.10" stroke="#8a8a8a" stroke-width="1.4"/>
<line x1="90.30" y1="423.50" x2="90.30" y2="428.10" stroke="#8a8a8a" stroke-width="1.4"/>
<line x1="94.20" y1="404.00" x2="94.20" y2="429.20" stroke="#8a8a8a" stroke-width="1.4"/>
<line x1="91.90" y1="404.00" x2="96.50" y2="404.00" stroke="#8a8a8a" stroke-width="1.4"/>
<line x1="91.90" y1="429.20" x2="96.50" y2="429.20" stroke="#8a8a8a" stroke-width="1.4"/>
<line x1="102.00" y1="390.00" x2="102.00" y2="404.00" stroke="#8a8a8a" stroke-width="1.4"/>
<line x1="99.70" y1="390.00" x2="104.30" y2="390.00" stroke="#8a8a8a" stroke-width="1.4"/>
<line x1="99.70" y1="404.00" x2="104.30" y2="404.00" stroke="#8a8a8a" stroke-width="1.4"/>
<line x1="117.40" y1="377.00" x2="117.40" y2="405.00" stroke="#8a8a8a" stroke-width="1.4"/>
<line x1="115.10" y1="377.00" x2="119.70" y2="377.00" stroke="#8a8a8a" stroke-width="1.4"/>
<line x1="115.10" y1="405.00" x2="119.70" y2="405.00" stroke="#8a8a8a" stroke-width="1.4"/>
<line x1="107.60" y1="391.00" x2="127.00" y2="391.00" stroke="#8a8a8a" stroke-width="1.4"/>
<line x1="107.60" y1="388.70" x2="107.60" y2="393.30" stroke="#8a8a8a" stroke-width="1.4"/>
<line x1="127.00" y1="388.70" x2="127.00" y2="393.30" stroke="#8a8a8a" stroke-width="1.4"/>
<line x1="136.20" y1="376.40" x2="144.40" y2="376.40" stroke="#8a8a8a" stroke-width="1.4"/>
<line x1="136.20" y1="374.10" x2="136.20" y2="378.70" stroke="#8a8a8a" stroke-width="1.4"/>
<line x1="144.40" y1="374.10" x2="144.40" y2="378.70" stroke="#8a8a8a" stroke-width="1.4"/>
<line x1="156.40" y1="359.40" x2="156.40" y2="390.00" stroke="#8a8a8a" stroke-width="1.4"/>
<line x1="154.10" y1="359.40" x2="158.70" y2="359.40" stroke="#8a8a8a" stroke-width="1.4"/>
<line x1="154.10" y1="390.00" x2="158.70" y2="390.00" stroke="#8a8a8a" stroke-width="1.4"/>
<line x1="71.80" y1="443.80" x2="86.00" y2="443.80" stroke="#d44f3b" stroke-width="1.4"/>
<line x1="71.80" y1="441.50" x2="71.80" y2="446.10" stroke="#d44f3b" stroke-width="1.4"/>
<line x1="86.00" y1="441.50" x2="86.00" y2="446.10" stroke="#d44f3b" stroke-width="1.4"/>
<line x1="84.00" y1="441.80" x2="98.10" y2="441.80" stroke="#d44f3b" stroke-width="1.4"/>
<line x1="84.00" y1="439.50" x2="84.00" y2="444.10" stroke="#d44f3b" stroke-width="1.4"/>
<line x1="98.10" y1="439.50" x2="98.10" y2="444.10" stroke="#d44f3b" stroke-width="1.4"/>
<line x1="98.10" y1="433.30" x2="115.60" y2="433.30" stroke="#d44f3b" stroke-width="1.4"/>
<line x1="98.10" y1="431.00" x2="98.10" y2="435.60" stroke="#d44f3b" stroke-width="1.4"/>
<line x1="115.60" y1="431.00" x2="115.60" y2="435.60" stroke="#d44f3b" stroke-width="1.4"/>
<line x1="147.00" y1="404.60" x2="155.00" y2="404.60" stroke="#d44f3b" stroke-width="1.4"/>
<line x1="147.00" y1="402.30" x2="147.00" y2="406.90" stroke="#d44f3b" stroke-width="1.4"/>
<line x1="155.00" y1="402.30" x2="155.00" y2="406.90" stroke="#d44f3b" stroke-width="1.4"/>
<line x1="206.00" y1="332.60" x2="206.00" y2="368.00" stroke="#d44f3b" stroke-width="1.4"/>
<line x1="203.70" y1="332.60" x2="208.30" y2="332.60" stroke="#d44f3b" stroke-width="1.4"/>
<line x1="203.70" y1="368.00" x2="208.30" y2="368.00" stroke="#d44f3b" stroke-width="1.4"/>
<line x1="195.40" y1="350.40" x2="216.00" y2="350.40" stroke="#d44f3b" stroke-width="1.4"/>
<line x1="195.40" y1="348.10" x2="195.40" y2="352.70" stroke="#d44f3b" stroke-width="1.4"/>
<line x1="216.00" y1="348.10" x2="216.00" y2="352.70" stroke="#d44f3b" stroke-width="1.4"/>
<line x1="224.40" y1="325.00" x2="224.40" y2="354.60" stroke="#d44f3b" stroke-width="1.4"/>
<line x1="222.10" y1="325.00" x2="226.70" y2="325.00" stroke="#d44f3b" stroke-width="1.4"/>
<line x1="222.10" y1="354.60" x2="226.70" y2="354.60" stroke="#d44f3b" stroke-width="1.4"/>
<line x1="213.60" y1="339.60" x2="235.40" y2="339.60" stroke="#d44f3b" stroke-width="1.4"/>
<line x1="213.60" y1="337.30" x2="213.60" y2="341.90" stroke="#d44f3b" stroke-width="1.4"/>
<line x1="235.40" y1="337.30" x2="235.40" y2="341.90" stroke="#d44f3b" stroke-width="1.4"/>
<line x1="136.00" y1="395.40" x2="136.00" y2="411.60" stroke="#cf4b35" stroke-width="1.4"/>
<line x1="133.70" y1="395.40" x2="138.30" y2="395.40" stroke="#cf4b35" stroke-width="1.4"/>
<line x1="133.70" y1="411.60" x2="138.30" y2="411.60" stroke="#cf4b35" stroke-width="1.4"/>
<line x1="131.00" y1="403.60" x2="141.00" y2="403.60" stroke="#cf4b35" stroke-width="1.4"/>
<line x1="131.00" y1="401.30" x2="131.00" y2="405.90" stroke="#cf4b35" stroke-width="1.4"/>
<line x1="141.00" y1="401.30" x2="141.00" y2="405.90" stroke="#cf4b35" stroke-width="1.4"/>
<circle cx="72.90" cy="414.00" r="4.3" fill="#808080" stroke="none" stroke-width="0"/>
<circle cx="81.90" cy="411.80" r="4.3" fill="#808080" stroke="none" stroke-width="0"/>
<circle cx="81.90" cy="417.40" r="4.3" fill="#808080" stroke="none" stroke-width="0"/>
<circle cx="80.50" cy="421.90" r="4.3" fill="#808080" stroke="none" stroke-width="0"/>
<circle cx="80.00" cy="425.80" r="4.3" fill="#808080" stroke="none" stroke-width="0"/>
<circle cx="94.20" cy="416.80" r="4.3" fill="#808080" stroke="none" stroke-width="0"/>
<circle cx="102.00" cy="397.00" r="4.3" fill="#808080" stroke="none" stroke-width="0"/>
<circle cx="117.40" cy="391.00" r="4.3" fill="#808080" stroke="none" stroke-width="0"/>
<circle cx="144.40" cy="376.40" r="4.3" fill="#808080" stroke="none" stroke-width="0"/>
<circle cx="156.40" cy="375.00" r="4.3" fill="#808080" stroke="none" stroke-width="0"/>
<circle cx="81.00" cy="443.80" r="4.4" fill="#fcd4c4" stroke="#d893c0" stroke-width="1.4"/>
<circle cx="90.30" cy="441.80" r="4.4" fill="#fcd4c4" stroke="#d893c0" stroke-width="1.4"/>
<circle cx="106.50" cy="433.30" r="4.4" fill="#fcd4c4" stroke="#d893c0" stroke-width="1.4"/>
<circle cx="151.00" cy="404.60" r="4.4" fill="#fcd4c4" stroke="#d893c0" stroke-width="1.4"/>
<circle cx="206.00" cy="350.40" r="4.4" fill="#fcd4c4" stroke="#d893c0" stroke-width="1.4"/>
<circle cx="224.40" cy="339.60" r="4.4" fill="#fcd4c4" stroke="#d893c0" stroke-width="1.4"/>
<circle cx="136.00" cy="403.60" r="4.3" fill="#cf4b35" stroke="none" stroke-width="0"/>
<text x="68.40" y="449.50" font-size="8.6" text-anchor="middle" fill="#d44f3b" font-weight="normal" font-style="normal">0</text>
<text x="102.60" y="445.60" font-size="8.6" text-anchor="middle" fill="#d44f3b" font-weight="normal" font-style="normal">1</text>
<text x="119.60" y="436.40" font-size="8.6" text-anchor="middle" fill="#d44f3b" font-weight="normal" font-style="normal">3</text>
<text x="158.00" y="407.60" font-size="8.6" text-anchor="start" fill="#d44f3b" font-weight="normal" font-style="normal">10</text>
<text x="206.00" y="326.00" font-size="8.6" text-anchor="middle" fill="#d44f3b" font-weight="normal" font-style="normal">25</text>
<text x="225.00" y="319.60" font-size="8.6" text-anchor="middle" fill="#d44f3b" font-weight="normal" font-style="normal">50</text>
<text x="62.80" y="412.00" font-size="8.6" text-anchor="middle" fill="#8e8e8e" font-weight="normal" font-style="normal">72</text>
<text x="83.60" y="408.70" font-size="8.6" text-anchor="middle" fill="#8e8e8e" font-weight="normal" font-style="normal">4</text>
<text x="99.80" y="419.40" font-size="8.6" text-anchor="start" fill="#8e8e8e" font-weight="normal" font-style="normal">22</text>
<text x="101.00" y="387.00" font-size="8.6" text-anchor="middle" fill="#8e8e8e" font-weight="normal" font-style="normal">13</text>
<text x="117.40" y="373.00" font-size="8.6" text-anchor="middle" fill="#8e8e8e" font-weight="normal" font-style="normal">57</text>
<text x="142.60" y="370.60" font-size="8.6" text-anchor="middle" fill="#8e8e8e" font-weight="normal" font-style="normal">42</text>
<text x="165.40" y="372.00" font-size="8.6" text-anchor="middle" fill="#8e8e8e" font-weight="normal" font-style="normal">14</text>
<text x="75.20" y="435.50" font-size="8.6" text-anchor="middle" fill="#8e8e8e" font-weight="normal" font-style="normal">7</text>
<circle cx="194.20" cy="407.30" r="2.6" fill="#cf4b35" stroke="none" stroke-width="0"/>
<text x="200.70" y="409.70" font-size="10.45" text-anchor="start" fill="#333" font-weight="normal" font-style="normal">MG1655 <tspan font-style="italic">WT</tspan></text>
<circle cx="194.20" cy="421.15" r="2.6" fill="#fcd4c4" stroke="#d893c0" stroke-width="1.0"/>
<text x="200.70" y="423.55" font-size="10.45" text-anchor="start" fill="#333" font-weight="normal" font-style="italic">Ptac</text>
<circle cx="194.20" cy="435.00" r="2.6" fill="#808080" stroke="none" stroke-width="0"/>
<text x="200.70" y="437.40" font-size="10.45" text-anchor="start" fill="#333" font-weight="normal" font-style="normal">ECOR</text>
<text x="365.00" y="267.60" font-size="17" text-anchor="start" fill="#111" font-weight="bold" font-style="normal">d</text>
<line x1="407.40" y1="271.00" x2="407.40" y2="457.40" stroke="#1e1e1e" stroke-width="1.2"/>
<line x1="405.20" y1="271.60" x2="407.40" y2="271.60" stroke="#888" stroke-width="1.2"/>
<text x="402.60" y="275.27" font-size="10.2" text-anchor="end" fill="#333" font-weight="normal" font-style="normal">25</text>
<line x1="405.20" y1="308.00" x2="407.40" y2="308.00" stroke="#888" stroke-width="1.2"/>
<text x="402.60" y="311.67" font-size="10.2" text-anchor="end" fill="#333" font-weight="normal" font-style="normal">20</text>
<line x1="405.20" y1="344.40" x2="407.40" y2="344.40" stroke="#888" stroke-width="1.2"/>
<text x="402.60" y="348.07" font-size="10.2" text-anchor="end" fill="#333" font-weight="normal" font-style="normal">15</text>
<line x1="405.20" y1="380.80" x2="407.40" y2="380.80" stroke="#888" stroke-width="1.2"/>
<text x="402.60" y="384.47" font-size="10.2" text-anchor="end" fill="#333" font-weight="normal" font-style="normal">10</text>
<line x1="405.20" y1="417.20" x2="407.40" y2="417.20" stroke="#888" stroke-width="1.2"/>
<text x="402.60" y="420.87" font-size="10.2" text-anchor="end" fill="#333" font-weight="normal" font-style="normal">5</text>
<line x1="405.20" y1="453.60" x2="407.40" y2="453.60" stroke="#888" stroke-width="1.2"/>
<text x="402.60" y="457.27" font-size="10.2" text-anchor="end" fill="#333" font-weight="normal" font-style="normal">0</text>
<line x1="407.00" y1="457.40" x2="647.40" y2="457.40" stroke="#1e1e1e" stroke-width="1.2"/>
<line x1="411.00" y1="457.40" x2="411.00" y2="459.60" stroke="#333" stroke-width="1.0"/>
<text x="411.00" y="472.00" font-size="10.2" text-anchor="middle" fill="#333" font-weight="normal" font-style="normal">0</text>
<line x1="473.00" y1="457.40" x2="473.00" y2="459.60" stroke="#333" stroke-width="1.0"/>
<text x="473.00" y="472.00" font-size="10.2" text-anchor="middle" fill="#333" font-weight="normal" font-style="normal">50</text>
<line x1="535.00" y1="457.40" x2="535.00" y2="459.60" stroke="#333" stroke-width="1.0"/>
<text x="535.00" y="472.00" font-size="10.2" text-anchor="middle" fill="#333" font-weight="normal" font-style="normal">100</text>
<line x1="597.00" y1="457.40" x2="597.00" y2="459.60" stroke="#333" stroke-width="1.0"/>
<text x="597.00" y="472.00" font-size="10.2" text-anchor="middle" fill="#333" font-weight="normal" font-style="normal">150</text>
<text x="436.00" y="485.80" font-size="10.3" text-anchor="start" fill="#1a1a1a" font-weight="bold" font-style="normal">P<tspan dy="5.15" font-style="italic" font-size="10">fliC</tspan><tspan dy="-5.15"> activity (PR) semi-solid, AU*10</tspan><tspan dx="-1.8" dy="-6.5920000000000005" font-weight="normal" font-size="8.446">3</tspan></text>
<text x="380.50" y="452.60" font-size="10.25" text-anchor="start" fill="#1a1a1a" font-weight="bold" font-style="normal" transform="rotate(-90 380.50 452.60)">Average swimming velocity, µm/sec</text>
<text x="444.30" y="379.20" font-size="8.6" text-anchor="middle" fill="#8e8e8e" font-weight="normal" font-style="normal">26</text>
<text x="459.50" y="379.20" font-size="8.6" text-anchor="middle" fill="#8e8e8e" font-weight="normal" font-style="normal">30</text>
<line x1="445.40" y1="394.00" x2="445.40" y2="424.60" stroke="#8a8a8a" stroke-width="1.4"/>
<line x1="443.10" y1="394.00" x2="447.70" y2="394.00" stroke="#8a8a8a" stroke-width="1.4"/>
<line x1="443.10" y1="424.60" x2="447.70" y2="424.60" stroke="#8a8a8a" stroke-width="1.4"/>
<line x1="428.00" y1="409.00" x2="460.60" y2="409.00" stroke="#8a8a8a" stroke-width="1.4"/>
<line x1="428.00" y1="406.70" x2="428.00" y2="411.30" stroke="#8a8a8a" stroke-width="1.4"/>
<line x1="460.60" y1="406.70" x2="460.60" y2="411.30" stroke="#8a8a8a" stroke-width="1.4"/>
<line x1="449.50" y1="384.00" x2="449.50" y2="398.30" stroke="#8a8a8a" stroke-width="1.4"/>
<line x1="447.20" y1="384.00" x2="451.80" y2="384.00" stroke="#8a8a8a" stroke-width="1.4"/>
<line x1="447.20" y1="398.30" x2="451.80" y2="398.30" stroke="#8a8a8a" stroke-width="1.4"/>
<line x1="444.20" y1="384.40" x2="459.00" y2="384.40" stroke="#8a8a8a" stroke-width="1.4"/>
<line x1="444.20" y1="382.10" x2="444.20" y2="386.70" stroke="#8a8a8a" stroke-width="1.4"/>
<line x1="459.00" y1="382.10" x2="459.00" y2="386.70" stroke="#8a8a8a" stroke-width="1.4"/>
<line x1="458.10" y1="372.00" x2="458.10" y2="393.60" stroke="#8a8a8a" stroke-width="1.4"/>
<line x1="455.80" y1="372.00" x2="460.40" y2="372.00" stroke="#8a8a8a" stroke-width="1.4"/>
<line x1="455.80" y1="393.60" x2="460.40" y2="393.60" stroke="#8a8a8a" stroke-width="1.4"/>
<line x1="462.70" y1="372.00" x2="462.70" y2="397.60" stroke="#8a8a8a" stroke-width="1.4"/>
<line x1="460.40" y1="372.00" x2="465.00" y2="372.00" stroke="#8a8a8a" stroke-width="1.4"/>
<line x1="460.40" y1="397.60" x2="465.00" y2="397.60" stroke="#8a8a8a" stroke-width="1.4"/>
<line x1="459.20" y1="358.50" x2="459.20" y2="381.00" stroke="#8a8a8a" stroke-width="1.4"/>
<line x1="456.90" y1="358.50" x2="461.50" y2="358.50" stroke="#8a8a8a" stroke-width="1.4"/>
<line x1="456.90" y1="381.00" x2="461.50" y2="381.00" stroke="#8a8a8a" stroke-width="1.4"/>
<line x1="440.90" y1="368.50" x2="474.70" y2="368.50" stroke="#8a8a8a" stroke-width="1.4"/>
<line x1="440.90" y1="366.20" x2="440.90" y2="370.80" stroke="#8a8a8a" stroke-width="1.4"/>
<line x1="474.70" y1="366.20" x2="474.70" y2="370.80" stroke="#8a8a8a" stroke-width="1.4"/>
<line x1="446.90" y1="369.40" x2="462.70" y2="369.40" stroke="#8a8a8a" stroke-width="1.4"/>
<line x1="446.90" y1="367.10" x2="446.90" y2="371.70" stroke="#8a8a8a" stroke-width="1.4"/>
<line x1="462.70" y1="367.10" x2="462.70" y2="371.70" stroke="#8a8a8a" stroke-width="1.4"/>
<line x1="473.60" y1="360.00" x2="510.60" y2="360.00" stroke="#8a8a8a" stroke-width="1.4"/>
<line x1="473.60" y1="357.70" x2="473.60" y2="362.30" stroke="#8a8a8a" stroke-width="1.4"/>
<line x1="510.60" y1="357.70" x2="510.60" y2="362.30" stroke="#8a8a8a" stroke-width="1.4"/>
<line x1="483.40" y1="337.40" x2="483.40" y2="355.40" stroke="#8a8a8a" stroke-width="1.4"/>
<line x1="481.10" y1="337.40" x2="485.70" y2="337.40" stroke="#8a8a8a" stroke-width="1.4"/>
<line x1="481.10" y1="355.40" x2="485.70" y2="355.40" stroke="#8a8a8a" stroke-width="1.4"/>
<line x1="473.60" y1="346.40" x2="493.60" y2="346.40" stroke="#8a8a8a" stroke-width="1.4"/>
<line x1="473.60" y1="344.10" x2="473.60" y2="348.70" stroke="#8a8a8a" stroke-width="1.4"/>
<line x1="493.60" y1="344.10" x2="493.60" y2="348.70" stroke="#8a8a8a" stroke-width="1.4"/>
<line x1="513.40" y1="321.60" x2="513.40" y2="347.40" stroke="#8a8a8a" stroke-width="1.4"/>
<line x1="511.10" y1="321.60" x2="515.70" y2="321.60" stroke="#8a8a8a" stroke-width="1.4"/>
<line x1="511.10" y1="347.40" x2="515.70" y2="347.40" stroke="#8a8a8a" stroke-width="1.4"/>
<line x1="493.00" y1="334.60" x2="534.00" y2="334.60" stroke="#8a8a8a" stroke-width="1.4"/>
<line x1="493.00" y1="332.30" x2="493.00" y2="336.90" stroke="#8a8a8a" stroke-width="1.4"/>
<line x1="534.00" y1="332.30" x2="534.00" y2="336.90" stroke="#8a8a8a" stroke-width="1.4"/>
<line x1="421.20" y1="412.00" x2="421.20" y2="433.40" stroke="#d44f3b" stroke-width="1.4"/>
<line x1="418.90" y1="412.00" x2="423.50" y2="412.00" stroke="#d44f3b" stroke-width="1.4"/>
<line x1="418.90" y1="433.40" x2="423.50" y2="433.40" stroke="#d44f3b" stroke-width="1.4"/>
<line x1="424.60" y1="401.00" x2="424.60" y2="420.00" stroke="#d44f3b" stroke-width="1.4"/>
<line x1="422.30" y1="401.00" x2="426.90" y2="401.00" stroke="#d44f3b" stroke-width="1.4"/>
<line x1="422.30" y1="420.00" x2="426.90" y2="420.00" stroke="#d44f3b" stroke-width="1.4"/>
<line x1="435.60" y1="368.90" x2="435.60" y2="396.30" stroke="#d44f3b" stroke-width="1.4"/>
<line x1="433.30" y1="368.90" x2="437.90" y2="368.90" stroke="#d44f3b" stroke-width="1.4"/>
<line x1="433.30" y1="396.30" x2="437.90" y2="396.30" stroke="#d44f3b" stroke-width="1.4"/>
<line x1="474.00" y1="352.00" x2="474.00" y2="366.00" stroke="#d44f3b" stroke-width="1.4"/>
<line x1="471.70" y1="352.00" x2="476.30" y2="352.00" stroke="#d44f3b" stroke-width="1.4"/>
<line x1="471.70" y1="366.00" x2="476.30" y2="366.00" stroke="#d44f3b" stroke-width="1.4"/>
<line x1="468.90" y1="359.20" x2="479.00" y2="359.20" stroke="#d44f3b" stroke-width="1.4"/>
<line x1="468.90" y1="356.90" x2="468.90" y2="361.50" stroke="#d44f3b" stroke-width="1.4"/>
<line x1="479.00" y1="356.90" x2="479.00" y2="361.50" stroke="#d44f3b" stroke-width="1.4"/>
<line x1="522.40" y1="335.60" x2="569.60" y2="335.60" stroke="#d44f3b" stroke-width="1.4"/>
<line x1="522.40" y1="333.30" x2="522.40" y2="337.90" stroke="#d44f3b" stroke-width="1.4"/>
<line x1="569.60" y1="333.30" x2="569.60" y2="337.90" stroke="#d44f3b" stroke-width="1.4"/>
<line x1="540.40" y1="336.00" x2="579.30" y2="336.00" stroke="#d44f3b" stroke-width="1.4"/>
<line x1="540.40" y1="333.70" x2="540.40" y2="338.30" stroke="#d44f3b" stroke-width="1.4"/>
<line x1="579.30" y1="333.70" x2="579.30" y2="338.30" stroke="#d44f3b" stroke-width="1.4"/>
<line x1="475.40" y1="330.00" x2="475.40" y2="340.00" stroke="#cf4b35" stroke-width="1.4"/>
<line x1="473.10" y1="330.00" x2="477.70" y2="330.00" stroke="#cf4b35" stroke-width="1.4"/>
<line x1="473.10" y1="340.00" x2="477.70" y2="340.00" stroke="#cf4b35" stroke-width="1.4"/>
<line x1="464.40" y1="335.40" x2="486.40" y2="335.40" stroke="#cf4b35" stroke-width="1.4"/>
<line x1="464.40" y1="333.10" x2="464.40" y2="337.70" stroke="#cf4b35" stroke-width="1.4"/>
<line x1="486.40" y1="333.10" x2="486.40" y2="337.70" stroke="#cf4b35" stroke-width="1.4"/>
<circle cx="445.40" cy="409.00" r="4.3" fill="#808080" stroke="none" stroke-width="0"/>
<circle cx="449.50" cy="384.40" r="4.3" fill="#808080" stroke="none" stroke-width="0"/>
<circle cx="458.10" cy="383.00" r="4.3" fill="#808080" stroke="none" stroke-width="0"/>
<circle cx="462.70" cy="384.40" r="4.3" fill="#808080" stroke="none" stroke-width="0"/>
<circle cx="459.20" cy="368.50" r="4.3" fill="#808080" stroke="none" stroke-width="0"/>
<circle cx="462.70" cy="369.40" r="4.3" fill="#808080" stroke="none" stroke-width="0"/>
<circle cx="491.60" cy="360.00" r="4.3" fill="#808080" stroke="none" stroke-width="0"/>
<circle cx="511.00" cy="367.60" r="4.3" fill="#808080" stroke="none" stroke-width="0"/>
<circle cx="483.40" cy="346.40" r="4.3" fill="#808080" stroke="none" stroke-width="0"/>
<circle cx="513.40" cy="334.60" r="4.3" fill="#808080" stroke="none" stroke-width="0"/>
<circle cx="421.20" cy="422.20" r="4.4" fill="#fcd4c4" stroke="#d893c0" stroke-width="1.4"/>
<circle cx="424.60" cy="411.60" r="4.4" fill="#fcd4c4" stroke="#d893c0" stroke-width="1.4"/>
<circle cx="435.60" cy="382.60" r="4.4" fill="#fcd4c4" stroke="#d893c0" stroke-width="1.4"/>
<circle cx="474.00" cy="359.20" r="4.4" fill="#fcd4c4" stroke="#d893c0" stroke-width="1.4"/>
<circle cx="545.60" cy="335.60" r="4.4" fill="#fcd4c4" stroke="#d893c0" stroke-width="1.4"/>
<circle cx="559.60" cy="336.00" r="4.4" fill="#fcd4c4" stroke="#d893c0" stroke-width="1.4"/>
<circle cx="475.40" cy="335.40" r="4.3" fill="#cf4b35" stroke="none" stroke-width="0"/>
<text x="414.30" y="425.60" font-size="8.6" text-anchor="middle" fill="#d44f3b" font-weight="normal" font-style="normal">0</text>
<text x="417.00" y="411.60" font-size="8.6" text-anchor="middle" fill="#d44f3b" font-weight="normal" font-style="normal">1</text>
<text x="427.00" y="379.60" font-size="8.6" text-anchor="middle" fill="#d44f3b" font-weight="normal" font-style="normal">3</text>
<text x="466.70" y="354.00" font-size="8.6" text-anchor="middle" fill="#d44f3b" font-weight="normal" font-style="normal">10</text>
<text x="546.00" y="328.00" font-size="8.6" text-anchor="middle" fill="#d44f3b" font-weight="normal" font-style="normal">25</text>
<text x="562.00" y="329.60" font-size="8.6" text-anchor="middle" fill="#d44f3b" font-weight="normal" font-style="normal">50</text>
<text x="451.60" y="419.60" font-size="8.6" text-anchor="middle" fill="#8e8e8e" font-weight="normal" font-style="normal">7</text>
<text x="469.60" y="390.40" font-size="8.6" text-anchor="middle" fill="#8e8e8e" font-weight="normal" font-style="normal">4</text>
<text x="452.20" y="363.40" font-size="8.6" text-anchor="middle" fill="#8e8e8e" font-weight="normal" font-style="normal">72</text>
<text x="475.00" y="379.20" font-size="8.6" text-anchor="middle" fill="#8e8e8e" font-weight="normal" font-style="normal">22</text>
<text x="502.40" y="358.00" font-size="8.6" text-anchor="middle" fill="#8e8e8e" font-weight="normal" font-style="normal">57</text>
<text x="511.00" y="379.60" font-size="8.6" text-anchor="middle" fill="#8e8e8e" font-weight="normal" font-style="normal">42</text>
<text x="498.60" y="348.00" font-size="8.6" text-anchor="middle" fill="#8e8e8e" font-weight="normal" font-style="normal">13</text>
<text x="513.40" y="318.00" font-size="8.6" text-anchor="middle" fill="#8e8e8e" font-weight="normal" font-style="normal">14</text>
<circle cx="591.60" cy="410.40" r="2.6" fill="#cf4b35" stroke="none" stroke-width="0"/>
<text x="598.10" y="412.80" font-size="10.45" text-anchor="start" fill="#333" font-weight="normal" font-style="normal">MG1655 <tspan font-style="italic">WT</tspan></text>
<circle cx="591.60" cy="424.20" r="2.6" fill="#fcd4c4" stroke="#d893c0" stroke-width="1.0"/>
<text x="598.10" y="426.60" font-size="10.45" text-anchor="start" fill="#333" font-weight="normal" font-style="italic">Ptac</text>
<circle cx="591.60" cy="438.00" r="2.6" fill="#808080" stroke="none" stroke-width="0"/>
<text x="598.10" y="440.40" font-size="10.45" text-anchor="start" fill="#333" font-weight="normal" font-style="normal">ECOR</text>
</svg></body></html>
